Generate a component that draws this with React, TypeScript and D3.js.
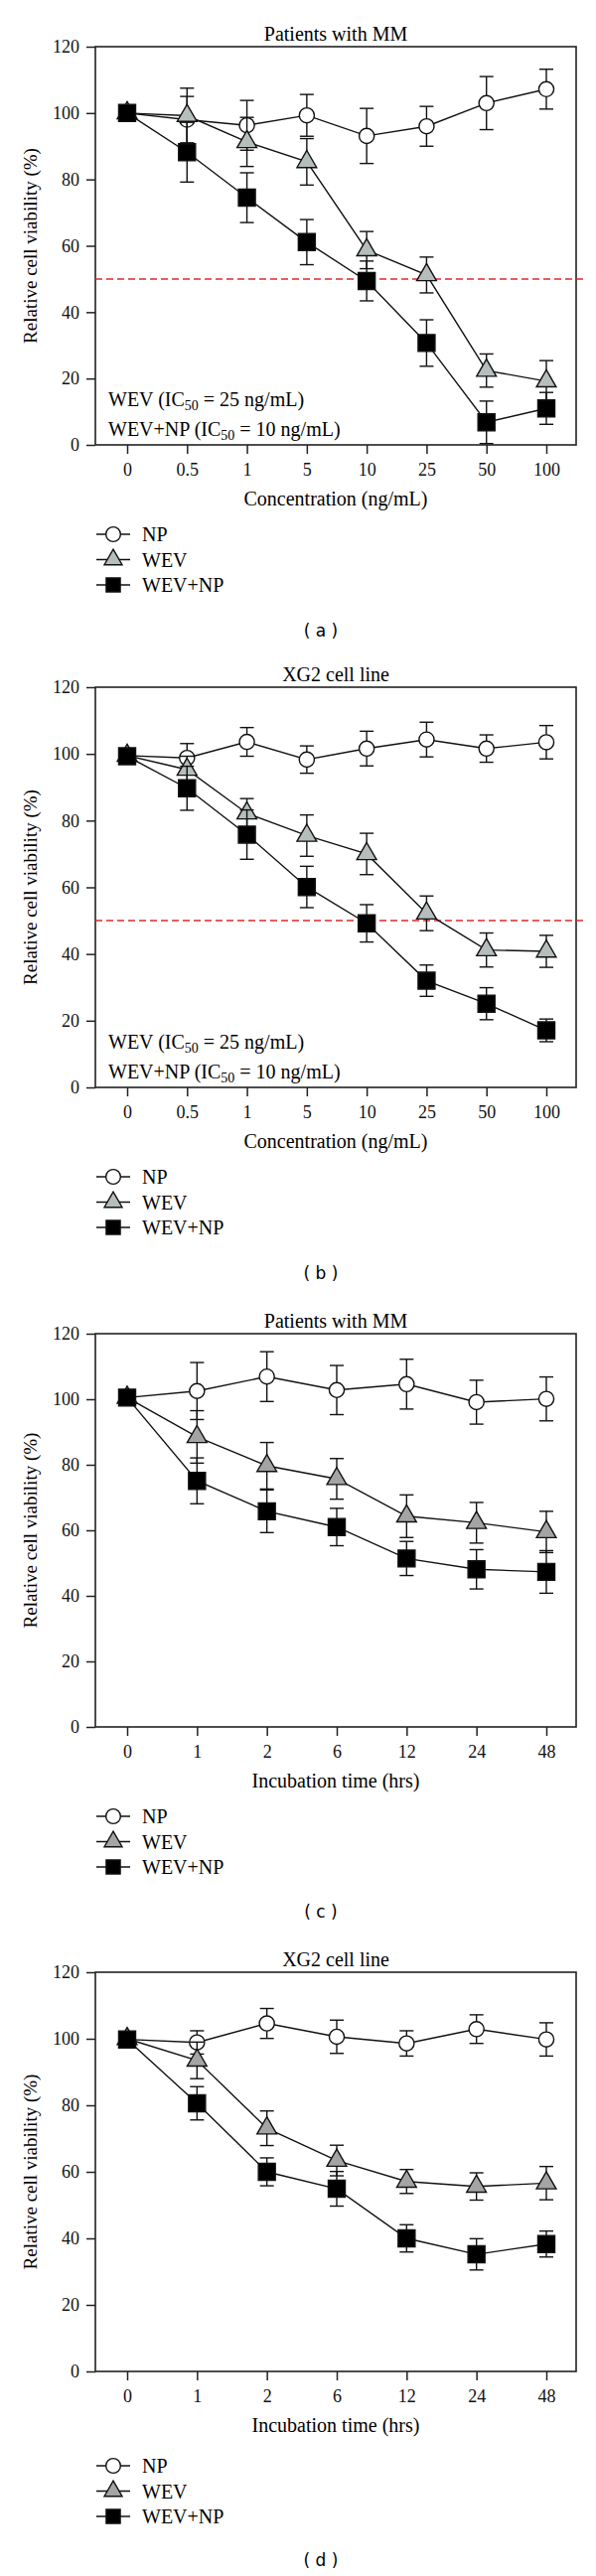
import { useEffect, useRef } from 'react';
import * as d3 from 'd3';

// Category labels and ticks
const concentrations = ['0', '0.5', '1', '5', '10', '25', '50', '100'];
const hours = ['0', '1', '2', '6', '12', '24', '48'];
const yTicks = [0, 20, 40, 60, 80, 100, 120];
const seriesNames = ['NP', 'WEV', 'WEV+NP'];

// (a) Patients with MM, concentration
const doseMmNp = [100, 98, 96.3, 99.3, 93.1, 96, 103, 107.2];
const doseMmNpErr = [2, 7, 7.5, 6.3, 8.3, 6, 8, 6];
const doseMmWev = [100, 99.2, 91.3, 85.3, 58.7, 51.2, 22.4, 19.2];
const doseMmWevErr = [2, 8.3, 7.4, 7, 5.6, 5.4, 5, 6.2];
const doseMmCombo = [100, 88.2, 74.5, 61.1, 49.4, 30.7, 6.8, 11];
const doseMmComboErr = [2, 9, 7.5, 6.8, 6, 7, 6.4, 4.8];

// (b) XG2 cell line, concentration
const doseXgNp = [99.5, 98.8, 103.6, 98.3, 101.6, 104.3, 101.6, 103.5];
const doseXgNpErr = [2, 4.3, 4.3, 4.1, 5.2, 5.2, 4.1, 5];
const doseXgWev = [99.5, 95.3, 82.2, 75.5, 70, 52.2, 41.2, 40.8];
const doseXgWevErr = [2, 4, 4.4, 6.2, 6.2, 5.2, 5.1, 4.8];
const doseXgCombo = [99.3, 89.7, 75.8, 60.1, 49.2, 32, 25.1, 17.1];
const doseXgComboErr = [2, 6.6, 7.4, 6.2, 5.6, 4.7, 4.8, 3.4];

// (c) Patients with MM, incubation time
const timeMmNp = [100.5, 102.5, 106.9, 102.8, 104.6, 99.1, 100.1];
const timeMmNpErr = [2, 8.7, 7.6, 7.5, 7.6, 6.7, 6.7];
const timeMmWev = [100.5, 88.5, 79.7, 75.7, 64.3, 62.3, 59.5];
const timeMmWevErr = [2, 8, 7.1, 6.2, 6.5, 6.2, 6.3];
const timeMmCombo = [100.5, 75.1, 65.8, 61, 51.4, 48.1, 47.3];
const timeMmComboErr = [2, 7, 6.5, 5.7, 5.2, 6, 6.5];

// (d) XG2 cell line, incubation time
const timeXgNp = [99.8, 98.9, 104.6, 100.6, 98.6, 102.9, 99.8];
const timeXgNpErr = [1.5, 3.5, 4.5, 5, 3.8, 4.3, 5];
const timeXgWev = [100, 93.5, 73.1, 63.4, 57.1, 55.6, 56.6];
const timeXgWevErr = [1.5, 5.5, 5.2, 4.6, 3.6, 4.1, 5];
const timeXgCombo = [99.8, 80.6, 60, 54.9, 40, 35.2, 38.3];
const timeXgComboErr = [1.5, 5, 4.2, 5.2, 4.1, 4.7, 3.9];

type Series = { name: string; values: number[]; errors: number[] };
type Panel = {
  title: string;
  xTitle: string;
  categories: string[];
  series: Series[];
  showIc50: boolean;
  tag: string;
};

function makeSeries(v: number[][], e: number[][]): Series[] {
  return seriesNames.map((name, i) => ({ name, values: v[i], errors: e[i] }));
}

const panels: Panel[] = [
  {
    title: 'Patients with MM',
    xTitle: 'Concentration (ng/mL)',
    categories: concentrations,
    series: makeSeries([doseMmNp, doseMmWev, doseMmCombo], [doseMmNpErr, doseMmWevErr, doseMmComboErr]),
    showIc50: true,
    tag: '( a )',
  },
  {
    title: 'XG2 cell line',
    xTitle: 'Concentration (ng/mL)',
    categories: concentrations,
    series: makeSeries([doseXgNp, doseXgWev, doseXgCombo], [doseXgNpErr, doseXgWevErr, doseXgComboErr]),
    showIc50: true,
    tag: '( b )',
  },
  {
    title: 'Patients with MM',
    xTitle: 'Incubation time (hrs)',
    categories: hours,
    series: makeSeries([timeMmNp, timeMmWev, timeMmCombo], [timeMmNpErr, timeMmWevErr, timeMmComboErr]),
    showIc50: false,
    tag: '( c )',
  },
  {
    title: 'XG2 cell line',
    xTitle: 'Incubation time (hrs)',
    categories: hours,
    series: makeSeries([timeXgNp, timeXgWev, timeXgCombo], [timeXgNpErr, timeXgWevErr, timeXgComboErr]),
    showIc50: false,
    tag: '( d )',
  },
];

// Layout per panel (pixels)
const frames = [
  { top: 47, bottom: 448, legend: 90, tag: 187, triFill: '#b5bdbd' },
  { top: 692, bottom: 1095, legend: 90, tag: 187, triFill: '#b5bdbd' },
  { top: 1343, bottom: 1739, legend: 90, tag: 186, triFill: '#a4a4a4' },
  { top: 1986, bottom: 2388, legend: 95, tag: 190, triFill: '#a4a4a4' },
];

const svgWidth = 600;
const svgHeight = 2594;
const plotLeft = 96;
const plotRight = 580;
const serif = '"Liberation Serif", "Times New Roman", serif';
const textSize = 20;

function App() {
  const ref = useRef(null);

  useEffect(() => {
    getChart();
  }, []);

  function getChart() {
    const svg = d3.select(ref.current);
    svg.selectAll('*').remove();

    const symbols = [d3.symbolCircle, d3.symbolTriangle, d3.symbolSquare];
    const sizes = [180, 170, 290];
    const legendSizes = [170, 140, 200];

    panels.forEach((panel, pi) => {
      const f = frames[pi];
      const fills = ['#ffffff', f.triFill, '#000000'];
      const g = svg.append('g');

      const x = d3
        .scalePoint<string>()
        .domain(panel.categories)
        .range([plotLeft + 32, plotRight - 30]);
      const y = d3.scaleLinear().domain([0, 120]).range([f.bottom, f.top]);

      // Title
      g.append('text')
        .attr('x', 338)
        .attr('y', f.top - 13)
        .attr('dy', '0.35em')
        .attr('text-anchor', 'middle')
        .attr('font-family', serif)
        .attr('font-size', textSize)
        .text(panel.title);

      // Frame
      g.append('rect')
        .attr('x', plotLeft)
        .attr('y', f.top)
        .attr('width', plotRight - plotLeft)
        .attr('height', f.bottom - f.top)
        .attr('fill', 'none')
        .attr('stroke', '#222')
        .attr('stroke-width', 1.6);

      // Axes
      const yAxis = g
        .append('g')
        .attr('transform', `translate(${plotLeft}, 0)`)
        .call(d3.axisLeft(y).tickValues(yTicks).tickSize(9).tickPadding(7));
      const xAxis = g
        .append('g')
        .attr('transform', `translate(0, ${f.bottom})`)
        .call(d3.axisBottom(x).tickSize(9).tickPadding(9));
      [yAxis, xAxis].forEach((a) => {
        a.select('.domain').remove();
        a.selectAll('line').attr('stroke', '#222').attr('stroke-width', 1.5);
        a.selectAll('text')
          .attr('font-family', serif)
          .attr('font-size', 18)
          .attr('fill', '#111');
      });

      // Axis titles
      g.append('text')
        .attr('x', 338)
        .attr('y', f.bottom + 54)
        .attr('dy', '0.35em')
        .attr('text-anchor', 'middle')
        .attr('font-family', serif)
        .attr('font-size', textSize)
        .text(panel.xTitle);
      g.append('text')
        .attr('transform', 'rotate(-90)')
        .attr('x', -(f.top + f.bottom) / 2)
        .attr('y', 30)
        .attr('dy', '0.35em')
        .attr('text-anchor', 'middle')
        .attr('font-family', serif)
        .attr('font-size', 19)
        .text('Relative cell viability (%)');

      // IC50 reference line and notes
      if (panel.showIc50) {
        g.append('line')
          .attr('x1', plotLeft)
          .attr('x2', 588)
          .attr('y1', y(50))
          .attr('y2', y(50))
          .attr('stroke', '#e0282c')
          .attr('stroke-width', 1.5)
          .attr('stroke-dasharray', '7,4');

        const notes = [
          ['WEV (IC', ' = 25 ng/mL)'],
          ['WEV+NP (IC', ' = 10 ng/mL)'],
        ];
        notes.forEach((n, i) => {
          const t = g
            .append('text')
            .attr('x', plotLeft + 13)
            .attr('y', f.bottom - 46 + i * 30)
            .attr('dy', '0.35em')
            .attr('font-family', serif)
            .attr('font-size', textSize);
          t.append('tspan').text(n[0]);
          t.append('tspan').attr('font-size', 14).attr('dy', 4).text('50');
          t.append('tspan').attr('dy', -4).text(n[1]);
        });
      }

      // Series: lines, error bars, markers
      panel.series.forEach((s, si) => {
        const pts = panel.categories.map((c, i) => ({
          x: x(c) as number,
          v: s.values[i],
          e: s.errors[i],
        }));
        const line = d3
          .line<{ x: number; v: number }>()
          .x((d) => d.x)
          .y((d) => y(d.v));
        g.append('path')
          .datum(pts)
          .attr('d', line)
          .attr('fill', 'none')
          .attr('stroke', '#111')
          .attr('stroke-width', 1.4);

        const bars = g
          .append('g')
          .attr('stroke', '#111')
          .attr('stroke-width', 1.4)
          .selectAll('g')
          .data(pts)
          .join('g');
        bars
          .append('line')
          .attr('x1', (d) => d.x)
          .attr('x2', (d) => d.x)
          .attr('y1', (d) => y(d.v - d.e))
          .attr('y2', (d) => y(d.v + d.e));
        [1, -1].forEach((sign) => {
          bars
            .append('line')
            .attr('x1', (d) => d.x - 7)
            .attr('x2', (d) => d.x + 7)
            .attr('y1', (d) => y(d.v + sign * d.e))
            .attr('y2', (d) => y(d.v + sign * d.e));
        });

        g.append('g')
          .selectAll('path')
          .data(pts)
          .join('path')
          .attr('transform', (d) => `translate(${d.x}, ${y(d.v)})`)
          .attr('d', d3.symbol(symbols[si], sizes[si])())
          .attr('fill', fills[si])
          .attr('stroke', '#111')
          .attr('stroke-width', 1.4);
      });

      // Legend
      const legend = g
        .append('g')
        .attr('transform', `translate(0, ${f.bottom + f.legend})`);
      seriesNames.forEach((name, i) => {
        const row = legend.append('g').attr('transform', `translate(0, ${i * 25.5})`);
        row
          .append('line')
          .attr('x1', 97)
          .attr('x2', 131)
          .attr('stroke', '#111')
          .attr('stroke-width', 1.4);
        row
          .append('path')
          .attr('transform', 'translate(114, 0)')
          .attr('d', d3.symbol(symbols[i], legendSizes[i])())
          .attr('fill', fills[i])
          .attr('stroke', '#111')
          .attr('stroke-width', 1.4);
        row
          .append('text')
          .attr('x', 143)
          .attr('dy', '0.35em')
          .attr('font-family', serif)
          .attr('font-size', textSize)
          .text(name);
      });

      // Panel tag
      g.append('text')
        .attr('x', 323)
        .attr('y', f.bottom + f.tag)
        .attr('dy', '0.35em')
        .attr('text-anchor', 'middle')
        .attr('font-family', '"DejaVu Sans", sans-serif')
        .attr('font-size', 17)
        .attr('xml:space', 'preserve')
        .text(panel.tag);
    });
  }

  return (
    <div style={{ position: 'absolute', left: 0, top: 0 }}>
      <svg
        ref={ref}
        width={svgWidth}
        height={svgHeight}
        style={{ display: 'block', background: '#fff' }}
      ></svg>
    </div>
  );
}

export default App;
